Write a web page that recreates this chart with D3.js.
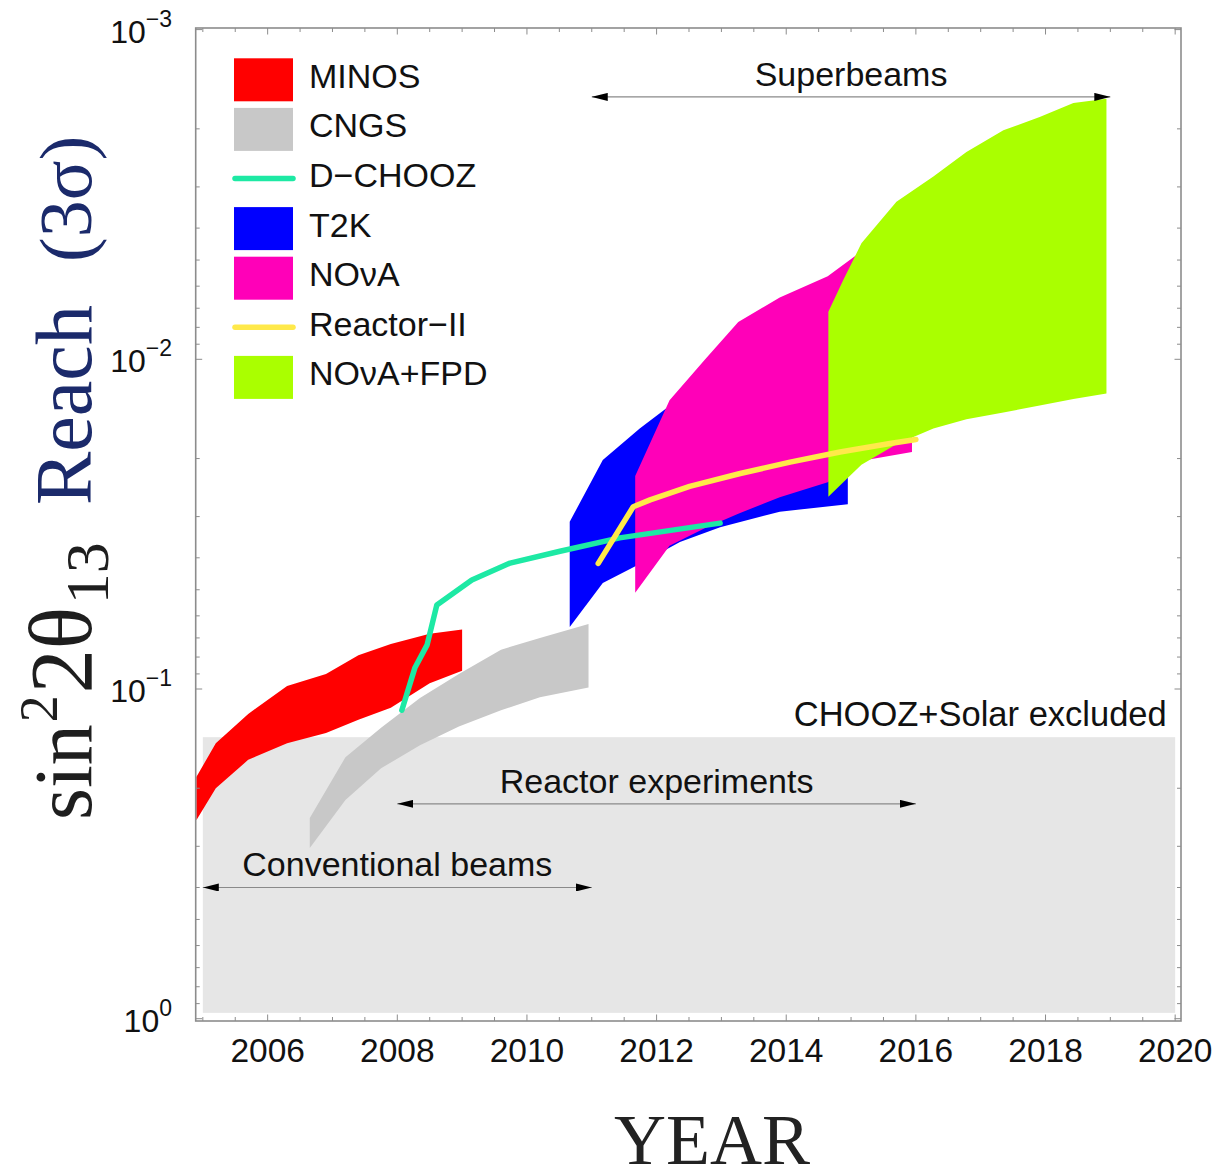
<!DOCTYPE html>
<html><head><meta charset="utf-8">
<script src="https://cdn.jsdelivr.net/npm/d3@7"></script>
<style>body{margin:0;background:#fff}</style>
</head><body><svg id="chart" width="1215" height="1170"></svg>
<script>
// ---- Sensitivity bands: year, best reach and weakest reach in sin²2θ13 ----
const minosYears = [2004.9, 2005.2, 2005.7, 2006.3, 2006.9, 2007.4, 2007.9, 2008.5, 2009.0];
const minosBest  = [0.185, 0.146, 0.119, 0.098, 0.090, 0.079, 0.073, 0.068, 0.066];
const minosWorst = [0.25, 0.20, 0.164, 0.146, 0.136, 0.124, 0.114, 0.096, 0.088];

const cngsYears = [2006.65, 2007.2, 2007.75, 2008.35, 2008.95, 2009.6, 2010.2, 2010.95];
const cngsBest  = [0.246, 0.161, 0.131, 0.1065, 0.090, 0.076, 0.070, 0.0635];
const cngsWorst = [0.3035, 0.217, 0.174, 0.148, 0.130, 0.116, 0.106, 0.099];

const t2kYears = [2010.66, 2011.17, 2011.74, 2012.36, 2012.98, 2013.9, 2014.95];
const t2kBest  = [0.0311, 0.0202, 0.0162, 0.0131, 0.0112, 0.0095, 0.0086];
const t2kWorst = [0.0649, 0.0477, 0.0418, 0.0358, 0.0323, 0.0290, 0.0275];

const novaYears = [2011.67, 2012.2, 2012.75, 2013.26, 2013.9, 2014.64, 2015.1, 2015.94];
const novaBest  = [0.0226, 0.0133, 0.0100, 0.0077, 0.0065, 0.0056, 0.0048, 0.0041];
const novaWorst = [0.0511, 0.0368, 0.0325, 0.0294, 0.0262, 0.0236, 0.0204, 0.0191];

const fpdYears = [2014.65, 2014.88, 2015.16, 2015.7, 2016.27, 2016.78, 2017.35, 2017.91, 2018.43, 2018.94];
const fpdBest  = [0.00717, 0.00575, 0.00445, 0.00333, 0.00279, 0.00235, 0.00202, 0.00184, 0.00167, 0.00162];
const fpdWorst = [0.0261, 0.0236, 0.0209, 0.0181, 0.0162, 0.0152, 0.0145, 0.0138, 0.0132, 0.0127];

// ---- Reactor sensitivity curves ----
const dchoozYears  = [2008.07, 2008.27, 2008.46, 2008.61, 2009.15, 2009.74, 2010.51, 2011.43, 2012.98];
const dchoozValues = [0.116, 0.0864, 0.0735, 0.0556, 0.0467, 0.0415, 0.0382, 0.0348, 0.0314];

const reactor2Years  = [2011.1, 2011.64, 2011.9, 2012.51, 2013.29, 2014.06, 2014.83, 2015.6, 2016.0];
const reactor2Values = [0.0416, 0.0280, 0.0267, 0.0243, 0.0222, 0.0205, 0.0191, 0.0180, 0.0175];

// ---- Region already excluded by CHOOZ + solar data ----
const excludedYears = [2005, 2020];
const excludedRange = [0.14, 0.96];

// ---- Era arrows ----
const eraLabels = ["Superbeams", "Reactor experiments", "Conventional beams"];
const eraFrom   = [2011, 2008, 2005];
const eraTo     = [2019, 2016, 2011];
const eraLevel  = [0.0016, 0.223, 0.4];

// ---- Axes ----
const xTickYears = [2006, 2008, 2010, 2012, 2014, 2016, 2018, 2020];
const yTickExps  = [-3, -2, -1, 0];

// ---- Legend ----
const legendLabels = ["MINOS", "CNGS", "D\u2212CHOOZ", "T2K", "NO\u03BDA", "Reactor\u2212II", "NO\u03BDA+FPD"];
const legendKinds  = ["band", "band", "line", "band", "band", "line", "band"];
const legendColors = ["#ff0000", "#c8c8c8", "#1de9a4", "#0000ff", "#ff00b8", "#ffe94a", "#aaff00"];

const SANS = "'Liberation Sans', Arial, Helvetica, sans-serif";
const SERIF = "'Liberation Serif', 'Times New Roman', Times, serif";

const svg = d3.select("#chart");
const x = d3.scaleLinear().domain([2004.89, 2020.09]).range([195.7, 1181]);
const y = d3.scaleLog().domain([1e-3, 1]).range([29.6, 1018.7]);
const frameTop = 28, frameBottom = 1021;
const [fx0, fx1] = x.range();

svg.append("defs").append("clipPath").attr("id", "plotClip")
  .append("rect").attr("x", fx0).attr("y", frameTop)
  .attr("width", fx1 - fx0).attr("height", frameBottom - frameTop);

svg.select("defs").append("marker")
  .attr("id", "head").attr("viewBox", "0 0 16 8")
  .attr("refX", 16).attr("refY", 4)
  .attr("markerWidth", 16).attr("markerHeight", 8)
  .attr("markerUnits", "userSpaceOnUse")
  .attr("orient", "auto-start-reverse")
  .append("path").attr("d", "M0,0L16,4L0,8Z").attr("fill", "#000");

const plot = svg.append("g").attr("clip-path", "url(#plotClip)");

// excluded region
plot.append("rect")
  .attr("x", x(excludedYears[0])).attr("width", x(excludedYears[1]) - x(excludedYears[0]))
  .attr("y", y(excludedRange[0])).attr("height", y(excludedRange[1]) - y(excludedRange[0]))
  .attr("fill", "#e6e6e6");

const zip = (ys, b, w) => ys.map((yr, i) => ({year: yr, best: b[i], worst: w[i]}));
const area = d3.area().x(d => x(d.year)).y0(d => y(d.best)).y1(d => y(d.worst));
const line = d3.line().x(d => x(d.year)).y(d => y(d.value));

const bands = [
  {data: zip(minosYears, minosBest, minosWorst), color: legendColors[0]},
  {data: zip(cngsYears, cngsBest, cngsWorst), color: legendColors[1]},
  {data: zip(t2kYears, t2kBest, t2kWorst), color: legendColors[3]},
  {data: zip(novaYears, novaBest, novaWorst), color: legendColors[4]},
  {data: zip(fpdYears, fpdBest, fpdWorst), color: legendColors[6]}
];
plot.selectAll("path.band").data(bands).join("path")
  .attr("class", "band").attr("d", d => area(d.data)).attr("fill", d => d.color);

const curves = [
  {data: dchoozYears.map((yr, i) => ({year: yr, value: dchoozValues[i]})), color: legendColors[2]},
  {data: reactor2Years.map((yr, i) => ({year: yr, value: reactor2Values[i]})), color: legendColors[5]}
];
plot.selectAll("path.curve").data(curves).join("path")
  .attr("class", "curve").attr("d", d => line(d.data))
  .attr("fill", "none").attr("stroke", d => d.color)
  .attr("stroke-width", 5.5).attr("stroke-linecap", "round").attr("stroke-linejoin", "round");

// era arrows and their labels
const eras = eraLabels.map((t, i) => ({label: t, from: eraFrom[i], to: eraTo[i], level: eraLevel[i]}));
const eraG = svg.append("g");
eraG.selectAll("line").data(eras).join("line")
  .attr("x1", d => x(d.from)).attr("x2", d => x(d.to))
  .attr("y1", d => y(d.level)).attr("y2", d => y(d.level))
  .attr("stroke", "#8a8a8a").attr("stroke-width", 1.2)
  .attr("marker-start", "url(#head)").attr("marker-end", "url(#head)");
eraG.selectAll("text").data(eras).join("text")
  .attr("x", d => x((d.from + d.to) / 2)).attr("y", d => y(d.level) - 11)
  .attr("text-anchor", "middle").attr("font-family", SANS).attr("font-size", 34)
  .attr("fill", "#111").text(d => d.label);

svg.append("text")
  .attr("x", x(2019.87)).attr("y", y(excludedRange[0]) - 11)
  .attr("text-anchor", "end").attr("font-family", SANS).attr("font-size", 34.5)
  .attr("fill", "#111").text("CHOOZ+Solar excluded");

// frame and inward ticks on all four sides
const axisColor = "#8c8c8c";
const ticksG = svg.append("g").attr("stroke", axisColor).attr("stroke-width", 1);
const minorX = d3.range(2005, 2020.01, 0.5).filter(v => !xTickYears.includes(v));
[[xTickYears, 6.5], [minorX, 4]].forEach(([vals, len]) => {
  vals.forEach(v => {
    ticksG.append("line").attr("x1", x(v)).attr("x2", x(v)).attr("y1", frameBottom).attr("y2", frameBottom - len);
    ticksG.append("line").attr("x1", x(v)).attr("x2", x(v)).attr("y1", frameTop).attr("y2", frameTop + len);
  });
});
const majorY = yTickExps.map(e => Math.pow(10, e));
const minorY = [];
[-3, -2, -1].forEach(e => { for (let k = 2; k <= 9; k++) minorY.push(k * Math.pow(10, e)); });
[[majorY, 6.5], [minorY, 4]].forEach(([vals, len]) => {
  vals.forEach(v => {
    ticksG.append("line").attr("x1", fx0).attr("x2", fx0 + len).attr("y1", y(v)).attr("y2", y(v));
    ticksG.append("line").attr("x1", fx1).attr("x2", fx1 - len).attr("y1", y(v)).attr("y2", y(v));
  });
});
svg.append("rect").attr("x", fx0).attr("y", frameTop)
  .attr("width", fx1 - fx0).attr("height", frameBottom - frameTop)
  .attr("fill", "none").attr("stroke", axisColor).attr("stroke-width", 1.6);

// tick labels
svg.append("g").selectAll("text").data(xTickYears).join("text")
  .attr("x", d => x(d)).attr("y", 1061.5).attr("text-anchor", "middle")
  .attr("font-family", SANS).attr("font-size", 33.5).attr("fill", "#111").text(d => d);

const yl = svg.append("g").selectAll("text").data(yTickExps).join("text")
  .attr("x", 172).attr("y", d => y(Math.pow(10, d)) + 13).attr("text-anchor", "end")
  .attr("font-family", SANS).attr("font-size", 32).attr("fill", "#111");
yl.append("tspan").text("10");
yl.append("tspan").attr("dy", -16).attr("font-size", 23)
  .text(d => d === 0 ? "0" : "\u2212" + Math.abs(d));

// axis titles
svg.append("text").attr("x", 712).attr("y", 1164).attr("text-anchor", "middle")
  .attr("font-family", SERIF).attr("font-size", 72).attr("fill", "#222").text("YEAR");

const yt = svg.append("g").attr("transform", "translate(91,0) rotate(-90)")
  .attr("font-family", SERIF);
const t1 = yt.append("text").attr("x", -820).attr("y", 0).attr("font-size", 82).attr("fill", "#1e1e1e");
t1.append("tspan").text("sin");
t1.append("tspan").attr("dx", 2).attr("dy", -34).attr("font-size", 54).text("2");
t1.append("tspan").attr("dx", 2).attr("dy", 34).attr("font-size", 88).text("2\u03B8");
t1.append("tspan").attr("dx", 3).attr("dy", 17).attr("font-size", 62).text("13");
yt.append("text").attr("x", -505).attr("y", 0).attr("font-size", 80).attr("fill", "#1b2a6b").text("Reach");
yt.append("text").attr("x", -262).attr("y", 0).attr("font-size", 74).attr("fill", "#1b2a6b").text("(3\u03C3)");

// legend
const lg = svg.append("g").selectAll("g")
  .data(legendLabels.map((t, i) => ({label: t, kind: legendKinds[i], color: legendColors[i]})))
  .join("g").attr("transform", (d, i) => `translate(234,${58.3 + i * 49.6})`);
lg.filter(d => d.kind === "band").append("rect")
  .attr("width", 59).attr("height", 43).attr("fill", d => d.color);
lg.filter(d => d.kind === "line").append("line")
  .attr("x1", 1).attr("x2", 59).attr("y1", 21).attr("y2", 21)
  .attr("stroke", d => d.color).attr("stroke-width", 5.5).attr("stroke-linecap", "round");
lg.append("text").attr("x", 75).attr("y", 29.5)
  .attr("font-family", SANS).attr("font-size", 34).attr("fill", "#111").text(d => d.label);
</script></body></html>
